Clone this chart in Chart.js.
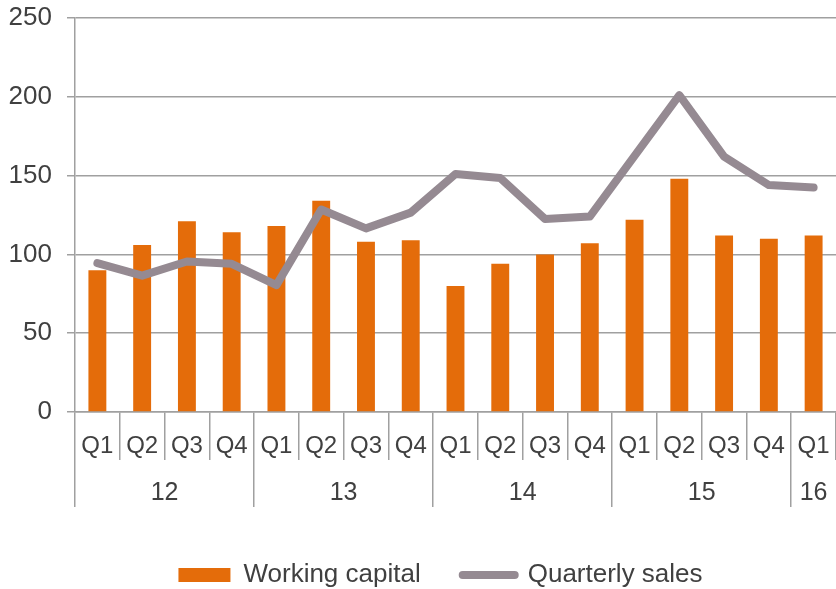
<!DOCTYPE html>
<html>
<head>
<meta charset="utf-8">
<script src="https://cdn.jsdelivr.net/npm/chart.js@4/dist/chart.umd.min.js"></script>
<style>
  html, body { margin: 0; padding: 0; background: #ffffff; }
  #wrap { width: 836px; height: 589px; }
</style>
</head>
<body>
<div id="wrap"><canvas id="c" width="836" height="589"></canvas></div>
<script>
// ---- data ----
const quarterLabels = ['Q1','Q2','Q3','Q4','Q1','Q2','Q3','Q4','Q1','Q2','Q3','Q4','Q1','Q2','Q3','Q4','Q1'];
const yearLabels = ['12','13','14','15','16'];
const yearSpans = [4, 4, 4, 4, 1];
const workingCapital = [90, 106, 121, 114, 118, 134, 108, 109, 80, 94, 100, 107, 122, 148, 112, 110, 112];
const quarterlySales = [94.5, 86.5, 95.5, 94, 80.5, 128.5, 116.5, 126.5, 151, 148.5, 122.5, 124, 162.5, 201, 162, 144, 142.5];
const yTicks = [0, 50, 100, 150, 200, 250];

// ---- styles ----
const ORANGE = '#E46C0A';
const GREY_LINE = '#958A92';
const GRID = '#a0a0a0';
const TEXT = '#404040';
const FONT = '"Liberation Sans", Arial, Helvetica, sans-serif';
const Y_FONT_SIZE = 26;

// measure widest y label to right-align mirrored labels
const mctx = document.createElement('canvas').getContext('2d');
mctx.font = Y_FONT_SIZE + 'px ' + FONT;
const yWidest = Math.max(...yTicks.map(v => mctx.measureText(String(v)).width));

// year-axis tick positions derived from spans
const yearBounds = [-0.5];
yearSpans.forEach(s => yearBounds.push(yearBounds[yearBounds.length - 1] + s));
const yearCenters = yearSpans.map((s, i) => (yearBounds[i] + yearBounds[i + 1]) / 2);
const yearTickMap = {};
yearBounds.forEach(v => { yearTickMap[v] = { label: '', grid: true }; });
yearCenters.forEach((v, i) => { yearTickMap[v] = { label: yearLabels[i], grid: false }; });
const yearTickValues = Object.keys(yearTickMap).map(Number).sort((a, b) => a - b);
const lastBound = yearBounds[yearBounds.length - 1];

new Chart(document.getElementById('c'), {
  type: 'bar',
  data: {
    labels: quarterLabels,
    datasets: [
      {
        type: 'bar',
        label: 'Working capital',
        data: workingCapital,
        backgroundColor: ORANGE,
        borderWidth: 0,
        barPercentage: 0.4,
        categoryPercentage: 1.0,
        order: 2
      },
      {
        type: 'line',
        label: 'Quarterly sales',
        data: quarterlySales,
        borderColor: GREY_LINE,
        backgroundColor: GREY_LINE,
        borderWidth: 8,
        pointRadius: 0,
        tension: 0,
        borderJoinStyle: 'round',
        borderCapStyle: 'round',
        order: 1
      }
    ]
  },
  options: {
    responsive: false,
    animation: false,
    layout: { padding: { top: 18, right: 0, bottom: -9, left: 45 } },
    plugins: {
      tooltip: { enabled: false },
      legend: {
        position: 'bottom',
        labels: {
          usePointStyle: true,
          pointStyleWidth: 52,
          boxHeight: 14,
          padding: 42,
          color: TEXT,
          font: { family: FONT, size: 26 },
          sort: (a, b) => a.datasetIndex - b.datasetIndex,
          generateLabels: (chart) => chart.data.datasets.map((ds, i) => ({
            text: ds.label,
            datasetIndex: i,
            fillStyle: ds.type === 'bar' ? ORANGE : GREY_LINE,
            strokeStyle: ds.type === 'bar' ? ORANGE : GREY_LINE,
            lineWidth: ds.type === 'bar' ? 0 : 8,
            lineCap: 'round',
            pointStyle: ds.type === 'bar' ? 'rect' : 'line',
            fontColor: TEXT,
            hidden: false
          }))
        }
      }
    },
    scales: {
      y: {
        min: 0,
        max: 250,
        afterBuildTicks: (scale) => { scale.ticks = yTicks.map(v => ({ value: v })); },
        afterFit: (scale) => { scale.width = 30; scale.paddingTop = 0; scale.paddingBottom = 0; },
        grid: { color: GRID, lineWidth: 1.5, tickLength: 8, drawTicks: true },
        border: { display: true, color: GRID, width: 1.5 },
        ticks: {
          color: TEXT,
          font: { family: FONT, size: Y_FONT_SIZE },
          mirror: true,
          crossAlign: 'far',
          padding: -23 - yWidest
        }
      },
      x: {
        type: 'category',
        position: 'bottom',
        offset: true,
        afterFit: (scale) => { scale.height = 48; },
        grid: {
          offset: true,
          drawOnChartArea: false,
          tickLength: 48,
          lineWidth: 1.5,
          color: (ctx) => (ctx.index === quarterLabels.length ? 'rgba(0,0,0,0)' : GRID)
        },
        border: { display: true, color: GRID, width: 1.5 },
        ticks: {
          color: TEXT,
          font: { family: FONT, size: 24 },
          padding: -28.4,
          autoSkip: false,
          maxRotation: 0,
          minRotation: 0
        }
      },
      x2: {
        type: 'linear',
        position: 'bottom',
        offset: false,
        min: -0.5,
        max: lastBound,
        afterBuildTicks: (scale) => { scale.ticks = yearTickValues.map(v => ({ value: v })); },
        afterFit: (scale) => { scale.height = 60; },
        grid: {
          offset: false,
          drawOnChartArea: false,
          tickLength: 47,
          lineWidth: 1.5,
          color: (ctx) => {
            const v = ctx.tick ? ctx.tick.value : null;
            if (v === null || v === lastBound) return 'rgba(0,0,0,0)';
            return yearTickMap[v] && yearTickMap[v].grid ? GRID : 'rgba(0,0,0,0)';
          }
        },
        border: { display: false },
        ticks: {
          color: TEXT,
          font: { family: FONT, size: 25 },
          padding: -29,
          autoSkip: false,
          maxRotation: 0,
          minRotation: 0,
          callback: (v) => (yearTickMap[v] ? yearTickMap[v].label : '')
        }
      }
    }
  }
});
</script>
</body>
</html>
